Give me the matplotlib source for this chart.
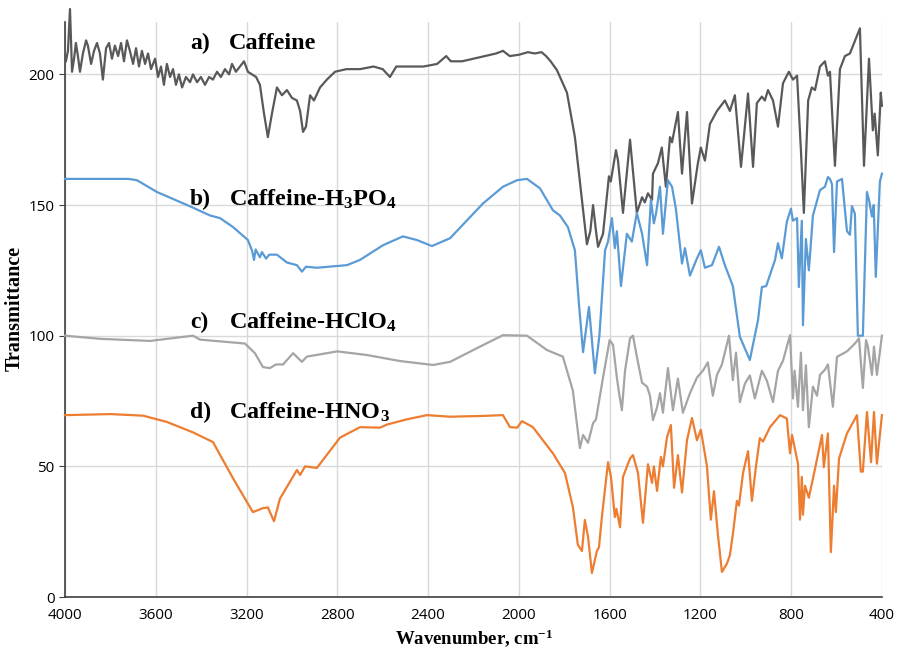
import numpy as np
import matplotlib
matplotlib.use("Agg")
import matplotlib.pyplot as plt

plt.rcParams['mathtext.fontset'] = 'custom'
plt.rcParams['mathtext.rm'] = 'Liberation Serif:bold'
plt.rcParams['mathtext.default'] = 'rm'

# a) caffeine
wn_a = [3996, 3987, 3978, 3969, 3960, 3952, 3943, 3934, 3921, 3907, 3899, 3885, 3872, 3859, 3846,
        3833, 3819, 3806, 3793, 3780, 3766, 3753, 3740, 3727, 3714, 3700, 3687, 3674, 3661, 3647,
        3634, 3621, 3603, 3590, 3577, 3564, 3551, 3537, 3524, 3511, 3498, 3484, 3467, 3449, 3436,
        3418, 3401, 3383, 3365, 3348, 3330, 3313, 3295, 3277, 3264, 3247, 3229, 3211, 3194, 3176,
        3158, 3141, 3123, 3106, 3088, 3066, 3044, 3022, 3000, 2978, 2964, 2951, 2938, 2920, 2903,
        2876, 2846, 2810, 2760, 2700, 2640, 2600, 2568, 2540, 2480, 2420, 2360, 2320, 2300, 2250,
        2200, 2150, 2100, 2070, 2040, 2000, 1960, 1930, 1900, 1880, 1860, 1832, 1788, 1753, 1722,
        1700, 1685, 1673, 1660, 1651, 1629, 1603, 1595, 1572, 1563, 1541, 1510, 1480, 1457, 1445,
        1431, 1413, 1409, 1387, 1370, 1352, 1334, 1325, 1299, 1281, 1259, 1237, 1211, 1198, 1180,
        1158, 1127, 1092, 1070, 1048, 1021, 990, 968, 951, 929, 916, 902, 880, 858, 836,
        810, 792, 774, 757, 744, 725, 709, 695, 673, 651, 638, 629, 607, 585, 563,
        541, 497, 479, 457, 440, 432, 418, 405, 400]
t_a = [205, 209, 225, 201, 206, 212, 207, 201, 208, 213, 211, 204, 209, 212, 208,
       198, 210, 212, 206, 211, 207, 212, 205, 213, 209, 204, 210, 203, 209, 204,
       208, 202, 206, 199, 203, 196, 204, 199, 202, 196, 200, 195, 199, 197, 200,
       197, 199, 196, 199, 198, 201, 199, 202, 200, 204, 201, 203, 205, 201, 200,
       199, 196, 185, 176, 185, 195, 192, 194, 191, 190, 186, 178, 180, 192, 190,
       195, 198, 201, 202, 202, 203, 202, 199, 203, 203, 203, 204, 207, 205, 205,
       206, 207, 208, 209, 207, 207.5, 208.5, 208, 208.5, 207, 205, 201.6, 193, 176, 152,
       135, 140, 150, 140, 134, 139, 161, 159, 171, 167, 147, 175, 147, 153, 151,
       154.5, 152, 162, 166, 172, 157, 176, 174, 185.6, 162, 185.6, 150.6, 166, 172, 167,
       181, 186, 190, 186, 192, 164.6, 192.7, 164.6, 189, 191.5, 190, 194, 190, 180, 196.6,
       201, 198, 199.5, 171, 147, 190, 195, 194, 203, 205, 199.5, 201, 165, 202, 207,
       208, 217.6, 165, 206, 178.6, 185, 169, 193, 188]

# b) caffeine-H3PO4
wn_b = [4000, 3900, 3800, 3720, 3683, 3595, 3436, 3361, 3317, 3260, 3194, 3176, 3167, 3160, 3141,
        3132, 3114, 3100, 3066, 3022, 2978, 2956, 2938, 2890, 2757, 2700, 2599, 2511, 2449, 2383,
        2303, 2158, 2070, 2008, 1964, 1907, 1850, 1819, 1784, 1753, 1735, 1717, 1691, 1665, 1645,
        1620, 1607, 1590, 1577, 1568, 1550, 1524, 1502, 1480, 1457, 1435, 1418, 1405, 1395, 1378,
        1365, 1343, 1325, 1308, 1281, 1268, 1246, 1215, 1198, 1180, 1149, 1118, 1092, 1057, 1026,
        982, 946, 929, 910, 871, 858, 841, 819, 801, 792, 774, 766, 753, 748, 735,
        722, 704, 673, 651, 638, 629, 620, 611, 598, 576, 554, 541, 532, 519, 506,
        484, 466, 457, 444, 436, 427, 409, 400]
t_b = [160, 160, 160, 160, 159.5, 155, 149, 146, 145, 141.6, 136.6, 132.6, 129, 133, 130,
       132, 129.5, 131, 131, 128, 127, 124.5, 126.4, 126, 127, 129, 134.6, 138, 136.6, 134.3,
       137.3, 150.6, 157, 159.5, 160, 156.4, 148, 146, 141.6, 132.7, 112, 93.7, 111, 85.6, 100,
       132.7, 136, 145, 133.5, 140, 119, 139, 136, 147, 139, 127, 152, 143, 147, 157,
       139, 159.5, 157, 148.6, 127.6, 133.5, 123, 129.6, 132.7, 126, 127, 134, 127, 119, 99.6,
       90.7, 106, 118.6, 119, 129, 135.4, 129.6, 143.6, 148.6, 144, 145, 118.6, 144, 104, 137,
       125, 146, 155.7, 157, 160.7, 160, 158, 132, 159, 160, 140, 138.6, 149.6, 146.6, 100,
       100, 155, 152, 145.6, 150, 122.5, 159, 162]

# c) caffeine-HClO4
wn_c = [4000, 3846, 3625, 3436, 3405, 3207, 3163, 3128, 3097, 3070, 3039, 2995, 2956, 2934, 2800,
        2669, 2524, 2378, 2303, 2158, 2070, 1964, 1876, 1806, 1762, 1731, 1717, 1695, 1673, 1660,
        1629, 1600, 1585, 1568, 1560, 1546, 1532, 1510, 1497, 1480, 1457, 1435, 1422, 1409, 1391,
        1378, 1365, 1343, 1321, 1299, 1277, 1246, 1215, 1189, 1167, 1145, 1127, 1105, 1074, 1057,
        1043, 1026, 1004, 982, 960, 929, 907, 880, 858, 836, 805, 792, 785, 770, 757,
        748, 735, 722, 704, 686, 673, 651, 638, 616, 598, 554, 519, 501, 484, 470,
        462, 444, 435, 422, 400]
t_c = [100, 98.8, 98, 100, 98.5, 97, 93.3, 88, 87.6, 89, 89, 93.3, 90, 92, 94,
       92.6, 90.3, 88.8, 90, 96.4, 100.2, 100, 94.5, 92, 79, 57, 62, 59, 66.5, 68,
       84, 98.3, 96.5, 84, 79, 71.5, 86.6, 99, 100, 92, 82, 80.5, 77, 67.7, 72.6,
       78, 70.5, 87.6, 71.5, 83.6, 70.5, 78, 84, 86.6, 89.8, 77, 85, 89, 100, 83,
       93.5, 74.6, 81.6, 84.8, 76, 86.6, 82.8, 74.6, 86.6, 90.4, 100.2, 76, 86.6, 72.8, 93.5,
       71.5, 88.7, 65, 80.5, 77, 85, 87, 89, 72.8, 91.9, 94, 97, 99, 80, 98.3,
       95.8, 85, 95.8, 85, 100]

# d) caffeine-HNO3
wn_d = [4000, 3900, 3800, 3656, 3551, 3436, 3348, 3260, 3172, 3128, 3106, 3079, 3053, 2978, 2964,
        2942, 2890, 2832, 2788, 2700, 2612, 2581, 2493, 2405, 2303, 2158, 2070, 2039, 2008, 1986,
        1938, 1850, 1797, 1762, 1740, 1722, 1709, 1695, 1678, 1656, 1647, 1634, 1607, 1594, 1577,
        1570, 1554, 1541, 1510, 1497, 1475, 1453, 1431, 1413, 1405, 1391, 1374, 1365, 1347, 1330,
        1316, 1299, 1281, 1259, 1237, 1215, 1198, 1171, 1154, 1140, 1123, 1105, 1083, 1070, 1057,
        1039, 1030, 1012, 990, 973, 955, 938, 924, 893, 849, 819, 805, 796, 770, 761,
        753, 748, 739, 722, 695, 664, 656, 638, 625, 611, 603, 589, 554, 510, 493,
        484, 466, 448, 435, 422, 400]
t_d = [69.6, 69.8, 70, 69.4, 67, 63, 59.3, 45.5, 32.5, 34, 34.3, 29, 37.6, 48.6, 46.7,
       50, 49.4, 56, 61, 65, 64.8, 66, 68, 69.6, 69, 69.3, 69.6, 65, 64.8, 67.3,
       65, 55, 47.5, 34.5, 20, 17.6, 29.5, 23, 9.2, 17.6, 19, 30.7, 51.6, 46, 30.6,
       33.7, 26.7, 46, 53, 54.3, 47.5, 28.4, 50.8, 43.7, 50, 40.6, 53.6, 50, 61.2, 65.8,
       41.8, 54.3, 40, 60, 68.5, 60, 64, 50, 29.6, 40.5, 24, 9.6, 12.8, 16, 24,
       36.8, 35, 47.5, 55.8, 36.8, 50, 60.8, 59.5, 65, 69.6, 68.3, 55, 62, 51, 29.6,
       46, 31.5, 42.6, 38, 49, 62, 49.7, 62.6, 17.2, 42.6, 32.5, 53, 62.6, 69.6, 48,
       48, 70.8, 51.6, 70.8, 51, 69.6]

labels = ["a)", "b)", "c)", "d)"]
names = ["Caffeine", "Caffeine-H$_3$PO$_4$", "Caffeine-HClO$_4$", "Caffeine-HNO$_3$"]
label_y = [212, 152, 105, 70.5]
colors = ["#595959", "#5B9BD5", "#A5A5A5", "#ED7D31"]

fig = plt.figure(figsize=(8.99, 6.5), dpi=100)
ax = fig.add_axes([0.0723, 0.0815, 0.9087, 0.8845])

for wn, t, c in [(wn_a, t_a, colors[0]), (wn_b, t_b, colors[1]),
                 (wn_c, t_c, colors[2]), (wn_d, t_d, colors[3])]:
    ax.plot(wn, t, color=c, lw=1.6, clip_on=False, zorder=3)

for lab, name, y in zip(labels, names, label_y):
    ax.text(3449, y, lab, fontsize=17, fontweight='bold', family='Liberation Serif',
            va='center', ha='left', zorder=4)
    ax.text(3277, y, name, fontsize=17.5, fontweight='bold', family='Liberation Serif',
            va='center', ha='left', zorder=4)

ax.set_xlim(4000, 400)
ax.set_ylim(0, 220)
ax.set_xticks(np.arange(4000, 399, -400))
ax.set_yticks([0, 50, 100, 150, 200])
ax.grid(True, color='#d9d9d9', lw=1)
ax.set_axisbelow(True)
for s in ['top', 'right']:
    ax.spines[s].set_visible(False)
for s in ['left', 'bottom']:
    ax.spines[s].set_color('#404040')
    ax.spines[s].set_linewidth(1.2)
ax.tick_params(axis='x', length=0, pad=8, labelsize=11)
ax.tick_params(axis='y', length=4, color='#404040', labelsize=11)
for lbl in ax.get_xticklabels() + ax.get_yticklabels():
    lbl.set_family('Open Sans')

fig.text(0.527, 1 - 638 / 650, "Wavenumber, cm$^{-1}$", fontsize=13.5, fontweight='bold',
         family='Liberation Serif', ha='center', va='center')
fig.text(15 / 899, 1 - 308 / 650, "Transmittance", fontsize=14.5, fontweight='bold',
         family='Liberation Serif', ha='center', va='center', rotation=90)

fig.savefig("out.png", dpi=100)
